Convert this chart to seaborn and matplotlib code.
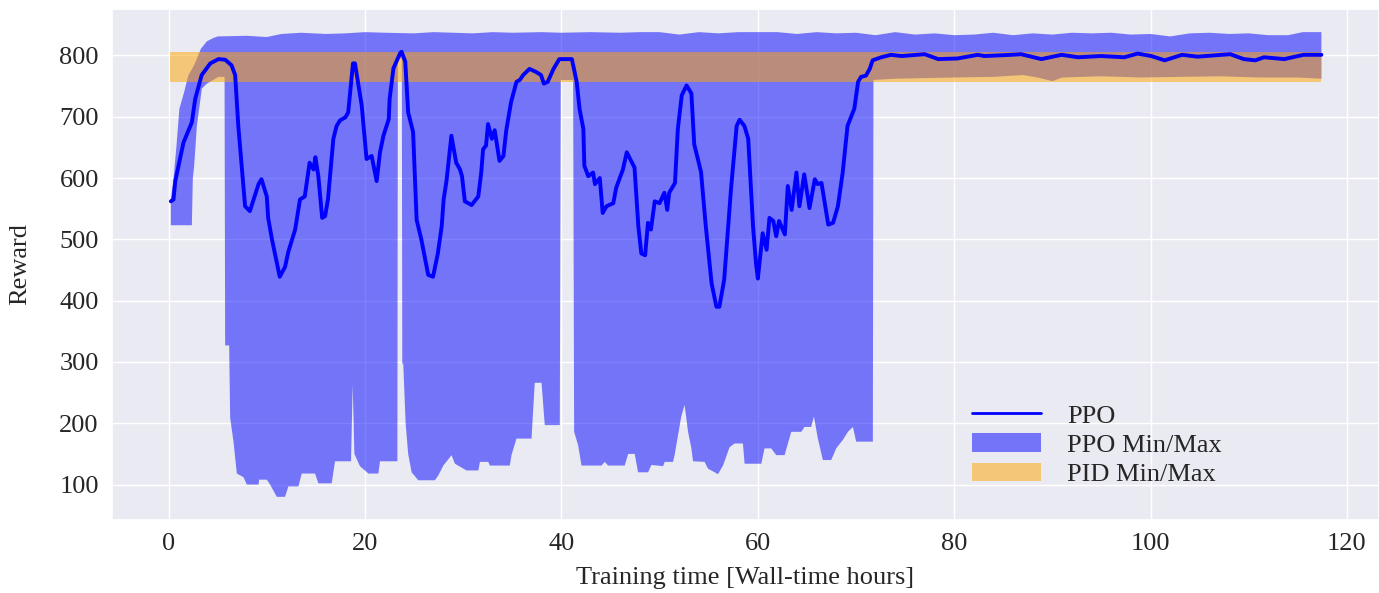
import numpy as np
import pandas as pd
import matplotlib
matplotlib.use("Agg")
import matplotlib.pyplot as plt
import seaborn as sns

# ========== data ==========
# PPO mean reward (line)
ppo_hours = [0.23, 0.5, 0.68, 1.52, 2.37, 2.71, 3.37, 4.25, 5.08, 5.76, 6.41, 6.78, 7.10, 7.79, 8.28,
             9.16, 9.46, 10.0, 10.14, 10.54, 11.32, 11.86, 12.2, 12.89, 13.38, 13.87, 14.36, 14.76,
             14.95, 15.25, 15.64, 15.94, 16.23, 16.78, 17.11, 17.46, 18.0, 18.29, 18.78, 18.98,
             19.67, 20.16, 20.68, 21.19, 21.53, 21.88, 22.42, 22.51, 22.9, 23.59, 23.73, 24.1,
             24.4, 24.9, 25.26, 25.75, 26.44, 26.93, 27.42, 27.81, 28.01, 28.3, 28.8, 29.29, 29.68,
             29.88, 30.17, 30.86, 31.54, 31.84, 32.03, 32.33, 32.53, 32.92, 33.21, 33.7, 34.1,
             34.39, 34.88, 35.43, 35.77, 36.11, 36.75, 37.43, 37.93, 38.22, 38.61, 39.2, 39.79,
             41.07, 41.56, 41.85, 42.24, 42.34, 42.74, 43.23, 43.42, 43.91, 44.21, 44.6, 45.29,
             45.58, 46.27, 46.66, 47.45, 47.84, 48.14, 48.53, 48.82, 49.12, 49.51, 50.0, 50.49,
             50.78, 50.98, 51.57, 51.86, 52.26, 52.75, 53.24, 53.53, 54.22, 54.71, 55.3, 55.79,
             56.09, 56.58, 57.27, 57.85, 58.15, 58.64, 59.03, 59.52, 59.82, 60.01, 60.5, 60.9,
             61.19, 61.58, 61.88, 62.17, 62.76, 63.06, 63.45, 63.94, 64.24, 64.73, 65.27, 65.81,
             66.1, 66.49, 67.18, 67.67, 68.16, 68.65, 69.14, 69.83, 70.22, 70.52, 71.01, 71.4,
             71.7, 72.58, 73.56, 74.64, 77.0, 78.37, 80.33, 82.4, 83.08, 85.83, 86.81, 88.88,
             90.94, 92.61, 94.96, 97.32, 98.69, 100.07, 101.44, 103.21, 104.78, 108.12, 109.49,
             110.67, 111.55, 113.62, 115.58, 117.4]
ppo_reward = [562, 565, 595, 658, 691, 729, 768, 787, 794, 793, 784, 768, 685, 554, 546,
              590, 598, 570, 535, 499, 439, 455, 480, 516, 565, 570, 625, 614,
              634, 603, 535, 538, 565, 664, 685, 694, 699, 707, 787, 787,
              718, 631, 636, 595, 642, 669, 696, 729, 779, 804, 806, 790,
              707, 675, 532, 499, 442, 439, 477, 521, 565, 595, 669, 625, 614,
              603, 562, 556, 570, 609, 647, 653, 688, 664, 678, 628, 636,
              678, 724, 757, 760, 768, 778, 773, 768, 754, 757, 778, 794,
              794, 757, 713, 680, 620, 603, 609, 590, 600, 543, 554, 559,
              584, 614, 642, 617, 521, 477, 474, 527, 516, 562, 559, 576,
              548, 576, 592, 680, 735, 751, 738, 655, 610, 521, 428, 390,
              390, 434, 581, 685, 695, 685, 664, 521, 461, 436, 510, 483,
              535, 530, 505, 530, 508, 587, 548, 609, 554, 606, 551, 598,
              590, 592, 524, 527, 554, 609, 685, 713, 757, 765, 767, 778,
              792, 797, 801, 799, 802, 794, 795, 801, 799, 801, 802, 794,
              801, 797, 799, 797, 803, 799, 792, 801, 798, 802, 794,
              792, 797, 794, 801, 801]

# PPO max (upper edge of the blue band)
ppo_max_hours = [0.23, 0.5, 0.8, 1.1, 1.6, 2.0, 2.6, 3.3, 3.9, 4.5, 5.0, 8.0, 10.0, 11.5, 13.5,
                 16.0, 18.0, 20.0, 22.0, 25.0, 27.0, 29.0, 31.0, 33.0, 35.0, 38.0, 40.0, 43.0,
                 46.0, 48.0, 50.0, 52.0, 54.0, 56.0, 58.0, 60.0, 62.0, 64.0, 66.0, 68.0, 70.0,
                 72.0, 74.0, 76.0, 78.0, 80.0, 82.0, 84.0, 86.0, 88.0, 90.0, 92.0, 94.0, 96.0,
                 98.0, 100.0, 102.0, 104.0, 106.0, 108.0, 110.0, 112.0, 114.0, 115.5, 117.4]
ppo_max = [565, 598, 652, 713, 741, 767, 784, 811, 823, 828, 831, 832, 830, 835, 837,
           835, 836, 838, 837, 836, 838, 837, 836, 838, 837, 838, 837, 838,
           837, 838, 838, 834, 838, 836, 838, 838, 838, 835, 838, 836, 837,
           833, 838, 834, 836, 833, 834, 837, 833, 836, 834, 837, 836, 837,
           834, 835, 831, 836, 837, 835, 836, 833, 833, 838, 838]

# PPO min (lower edge of the blue band)
ppo_min_hours = [0.23, 2.37, 2.47, 2.6, 2.88, 3.39, 3.9, 5.08, 5.7, 5.76, 6.17, 6.27, 6.61, 6.95,
                 7.63, 7.97, 9.16, 9.22, 10.0, 10.34, 11.02, 11.86, 12.2, 13.22, 13.56, 14.91,
                 15.26, 16.61, 16.95, 18.58, 18.75, 18.92, 19.49, 20.35, 21.36, 21.53, 22.72,
                 23.3, 23.35, 23.75, 23.8, 23.9, 24.14, 24.4, 24.75, 25.43, 27.12, 27.47, 27.98,
                 28.82, 29.16, 30.35, 31.54, 31.71, 32.55, 32.72, 34.75, 34.92, 35.43, 36.96,
                 37.29, 37.98, 38.31, 39.84, 39.94, 41.2, 41.3, 41.71, 42.05, 44.08, 44.42, 44.76,
                 46.45, 46.8, 47.47, 47.81, 48.83, 49.17, 50.36, 50.52, 51.37, 51.54, 52.21,
                 52.55, 52.9, 53.23, 53.41, 54.59, 54.93, 55.95, 56.46, 57.13, 57.64, 58.49,
                 58.66, 60.36, 60.69, 61.37, 61.88, 62.73, 63.41, 64.43, 64.76, 65.44, 65.72,
                 66.12, 66.63, 67.48, 67.99, 68.67, 69.18, 69.69, 70.02, 71.72, 71.78, 74.0,
                 77.0, 80.0, 84.0, 87.0, 88.5, 90.0, 91.0, 95.0, 99.0, 103.0, 107.0, 111.0,
                 115.0, 117.4]
ppo_min = [523, 523, 600, 619, 685, 746, 754, 765, 765, 327, 327, 209, 170, 118,
           112, 100, 100, 108, 108, 100, 80, 80, 97, 97, 118, 118,
           102, 102, 138, 138, 263, 150, 130, 118, 118, 138, 138,
           138, 795, 795, 297, 297, 200, 150, 120, 107, 107, 115, 131,
           148, 134, 123, 123, 137, 137, 131, 131, 148, 175, 175,
           266, 266, 197, 197, 760, 760, 186, 164, 131, 131, 137, 131,
           131, 150, 150, 120, 120, 132, 130, 137, 137, 149, 211,
           230, 186, 160, 138, 137, 126, 117, 131, 161, 167, 167,
           134, 134, 159, 159, 148, 148, 186, 186, 194, 194, 211,
           175, 140, 140, 159, 173, 186, 194, 170, 170, 760, 762,
           763, 764, 765, 768, 764, 758, 764, 766, 764, 765, 766, 764,
           764, 762]

# PID min/max band
pid_hours = [0.1, 20.0, 40.0, 60.0, 80.0, 100.0, 117.4]
pid_min = [757, 757, 757, 757, 757, 757, 757]
pid_max = [806, 806, 806, 806, 806, 806, 806]

# ========== style ==========
sns.set_theme(style="darkgrid")
plt.rcParams["font.family"] = ["Liberation Serif", "DejaVu Serif"]
FS = 19

fig, ax = plt.subplots(figsize=(13.79, 5.93), dpi=100)
fig.subplots_adjust(left=0.0812, right=1.0, top=0.985, bottom=0.123)

# blue band: upper edge then lower edge reversed
poly_x = list(ppo_max_hours) + list(ppo_min_hours[::-1])
poly_y = list(ppo_max) + list(ppo_min[::-1])
ppo_band = ax.fill(poly_x, poly_y, color="blue", alpha=0.5, lw=0, label="PPO Min/Max")[0]

pid_band = ax.fill_between(pid_hours, pid_min, pid_max, color="orange", alpha=0.5, lw=0,
                           label="PID Min/Max")

df = pd.DataFrame({"hours": ppo_hours, "reward": ppo_reward})
sns.lineplot(data=df, x="hours", y="reward", color="blue", lw=2.8, ax=ax, label="PPO")
ppo_line = ax.get_lines()[0]

ax.set_xticks(range(0, 121, 20))
ax.set_yticks(range(100, 801, 100))
ax.tick_params(labelsize=FS, pad=3.5)
ax.set_xlabel("Training time [Wall-time hours]", fontsize=FS, labelpad=8.5)
ax.set_ylabel("Reward", fontsize=FS, labelpad=20)

leg = ax.legend([ppo_line, ppo_band, pid_band], ["PPO", "PPO Min/Max", "PID Min/Max"],
                loc="lower left", bbox_to_anchor=(0.66, 0.02), frameon=False, fontsize=FS,
                handlelength=2.6, handletextpad=1.0, labelspacing=0.22)
leg.get_lines()[0].set_linewidth(2)

plt.savefig("out.png", dpi=100)
